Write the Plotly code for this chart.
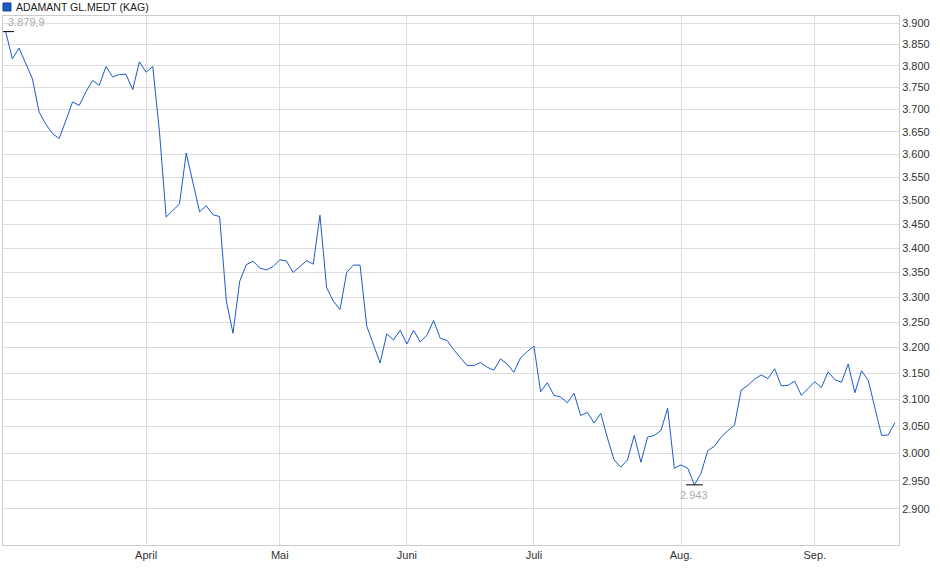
import math
import plotly.graph_objects as go

# daily prices (index = trading day, first point early March)
prices = [
    3879.9, 3816, 3841, 3804, 3770, 3694, 3667, 3646, 3635, 3675,
    3717, 3709, 3740, 3766, 3755, 3798, 3774, 3780, 3780, 3745,
    3809, 3785, 3798, 3650, 3465, 3479, 3493, 3603, 3537, 3476,
    3489, 3470, 3466, 3292, 3228, 3332, 3366, 3373, 3359, 3355,
    3362, 3376, 3373, 3350, 3362, 3374, 3367, 3469, 3319, 3292,
    3275, 3350, 3365, 3365, 3242, 3205, 3170, 3227, 3215, 3234,
    3207, 3234, 3211, 3224, 3253, 3218, 3214, 3196, 3180, 3165,
    3165, 3171, 3162, 3156, 3178, 3168, 3152, 3180, 3192, 3203,
    3115, 3132, 3108, 3105, 3094, 3112, 3070, 3076, 3056, 3074,
    3028, 2988, 2975, 2988, 3033, 2984, 3030, 3033, 3042, 3084,
    2973, 2979, 2973, 2943, 2964, 3005, 3013, 3030, 3042, 3052,
    3118, 3127, 3139, 3147, 3140, 3159, 3126, 3127, 3135, 3108,
    3121, 3134, 3123, 3153, 3138, 3133, 3168, 3113, 3155, 3137,
    3084, 3033, 3034, 3057,
]
days = list(range(len(prices)))

month_pos = [21, 41, 60, 79, 101, 121]
month_labels = ["April", "Mai", "Juni", "Juli", "Aug.", "Sep."]
y_ticks = [2900, 2950, 3000, 3050, 3100, 3150, 3200, 3250, 3300, 3350, 3400,
           3450, 3500, 3550, 3600, 3650, 3700, 3750, 3800, 3850, 3900]

name = "ADAMANT GL.MEDT (KAG)"
blue = "#1a5cc8"
font = "Liberation Sans, Arial, sans-serif"

i_max = prices.index(max(prices))
i_min = prices.index(min(prices))


def de_num(v, dec):
    # german style: 3.879,9
    s = f"{v:,.{dec}f}"
    return s.replace(",", "X").replace(".", ",").replace("X", ".")


fig = go.Figure()
fig.add_trace(go.Scatter(x=days, y=prices, mode="lines",
                         line=dict(color=blue, width=1), showlegend=False))
# high / low markers
fig.add_trace(go.Scatter(x=[i_max, i_min], y=[prices[i_max], prices[i_min]],
                         mode="markers", showlegend=False,
                         marker=dict(symbol="line-ew", size=12,
                                     line=dict(color="#000", width=1))))

fig.add_annotation(x=i_max, y=math.log10(prices[i_max]), text=de_num(prices[i_max], 1),
                   showarrow=False, xanchor="left", xshift=0, yshift=10,
                   font=dict(family=font, size=11, color="#aaaaaa"))
fig.add_annotation(x=i_min, y=math.log10(prices[i_min]), text=de_num(prices[i_min], 0),
                   showarrow=False, xanchor="center", yshift=-10,
                   font=dict(family=font, size=11, color="#aaaaaa"))

# legend
fig.add_shape(type="rect", xref="paper", yref="paper",
              x0=0.0, x1=0.0089, y0=1.0095, y1=1.0246,
              fillcolor=blue, line=dict(color="#1a3f86", width=1))
fig.add_annotation(xref="paper", yref="paper", x=0.0125, y=1.017, text=name,
                   showarrow=False, xanchor="left", yanchor="middle",
                   font=dict(family=font, size=10.5, color="#222"))

fig.update_layout(
    width=940, height=579,
    margin=dict(l=3, r=41, t=16, b=34),
    paper_bgcolor="white", plot_bgcolor="white",
    font=dict(family=font, size=11, color="#333"),
    xaxis=dict(range=[-0.4, 133.6], tickvals=month_pos, ticktext=month_labels,
               showgrid=True, gridcolor="#dddddd", gridwidth=1,
               showline=True, mirror=True, linecolor="#cccccc", linewidth=1,
               ticks="", zeroline=False),
    yaxis=dict(type="log", side="right",
               range=[math.log10(2837), math.log10(3917)],
               tickvals=y_ticks, ticktext=[de_num(v, 0) for v in y_ticks],
               showgrid=True, gridcolor="#dddddd", gridwidth=1,
               showline=True, mirror=True, linecolor="#cccccc", linewidth=1,
               ticks="", zeroline=False),
)

fig.write_html("out.html", config={"displayModeBar": False},
               post_script="document.body.style.margin='0';")
